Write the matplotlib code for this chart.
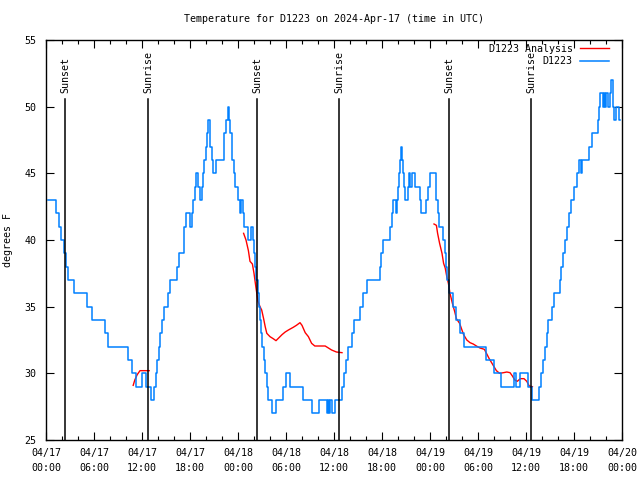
import numpy as np
import pandas as pd
import matplotlib
matplotlib.use("Agg")
import matplotlib.pyplot as plt
import matplotlib.dates as mdates

plt.rcParams["font.family"] = ["DejaVu Sans Mono"]
plt.rcParams["font.size"] = 7.2

start = pd.Timestamp("2024-04-17 00:00")

# D1223 observations: (hours since 04/17 00:00, deg F), held until the next reading
obs_hours = [0.25, 1.25, 1.3, 1.6, 1.9, 2.2, 2.45, 2.7, 3.5, 5.1, 5.8, 7.4, 7.7,
             10.2, 10.7, 11.2, 12.0, 12.5, 12.7, 13.1, 13.5, 13.7, 13.9, 14.1, 14.3,
             14.55, 14.8, 15.3, 15.5, 16.4, 16.6, 17.2, 17.3, 17.5, 18.0, 18.25,
             18.4, 18.6, 18.75, 19.0, 19.25, 19.5, 19.65, 19.8, 20.0, 20.15, 20.3,
             20.45, 20.5, 20.7, 20.9, 21.2, 22.2, 22.3, 22.55, 22.8, 22.9, 23.05,
             23.2, 23.3, 23.5, 23.6, 24.0, 24.25, 24.4, 24.6, 24.75, 25.2, 25.6,
             25.85, 26.0, 26.15, 26.3, 26.5, 26.6, 26.75, 26.9, 27.0, 27.2, 27.4,
             27.6, 27.8, 28.3, 28.7, 29.6, 30.0, 30.5, 32.1, 33.2, 34.1, 35.1,
             35.25, 35.4, 35.55, 35.7, 36.1, 36.95, 37.2, 37.5, 37.75, 38.2, 38.5,
             39.3, 39.6, 40.1, 41.7, 41.9, 42.1, 42.95, 43.2, 43.35, 43.7, 43.9,
             44.05, 44.15, 44.25, 44.35, 44.5, 44.6, 44.7, 44.85, 45.25, 45.4,
             45.5, 45.7, 46.1, 46.7, 46.85, 47.55, 47.75, 47.95, 48.7, 48.8, 48.95,
             49.1, 49.65, 49.85, 49.95, 50.1, 50.35, 50.85, 51.2, 51.8, 52.3,
             55.05, 55.95, 56.85, 58.5, 58.75, 59.3, 60.25, 60.75, 61.6, 61.9,
             62.1, 62.35, 62.6, 62.8, 63.2, 63.55, 64.2, 64.4, 64.6, 64.85, 65.1,
             65.35, 65.65, 65.95, 66.4, 66.65, 66.9, 67.0, 67.85, 68.3, 68.95,
             69.1, 69.3, 69.6, 69.75, 69.85, 70.0, 70.2, 70.45, 70.6, 70.9, 71.0,
             71.2, 71.6, 71.75]
obs_temps = [43, 42, 42, 41, 40, 39, 38, 37, 36, 35, 34, 33, 32,
             31, 30, 29, 30, 29, 29, 28, 29, 30, 31, 32, 33,
             34, 35, 36, 37, 38, 39, 40, 41, 42, 41, 42,
             43, 44, 45, 44, 43, 44, 45, 46, 47, 48, 49,
             48, 47, 46, 45, 46, 47, 48, 49, 50, 49, 48,
             47, 46, 45, 44, 43, 42, 43, 42, 41, 40, 41,
             40, 39, 38, 37, 36, 35, 34, 33, 32, 31, 30,
             29, 28, 27, 28, 29, 30, 29, 28, 27, 28, 27,
             28, 27, 28, 27, 28, 29, 30, 31, 32, 33, 34,
             35, 36, 37, 38, 39, 40, 41, 42, 43, 42, 43,
             44, 45, 46, 47, 46, 45, 44, 43, 44, 45,
             44, 45, 44, 43, 42, 43, 44, 45, 44, 43, 42,
             41, 40, 39, 38, 37, 36, 35, 34, 33, 32,
             31, 30, 29, 30, 29, 30, 29, 28, 29, 30,
             31, 32, 33, 34, 35, 36, 37, 38, 39, 40, 41,
             42, 43, 44, 45, 46, 45, 46, 47, 48, 49,
             50, 51, 50, 51, 50, 51, 50, 51, 52, 50, 49,
             50, 49, 49]

# D1223 Analysis, NaN separates the three pieces
ana_hours = [10.9, 11.1, 11.4, 11.75, 12.9, np.nan,
             24.7, 25.0, 25.3, 25.5, 25.8, 26.0, 26.25, 26.5, 26.75, 26.96, 27.2,
             27.4, 27.6, 28.0, 28.4, 28.75, 29.0, 29.5, 29.9, 30.3, 30.9, 31.3,
             31.75, 32.0, 32.4, 32.8, 33.2, 33.6, 34.9, 35.3, 35.7, 36.3, 37.0, np.nan,
             48.5, 48.8, 48.95, 49.2, 49.5, 49.7, 49.9, 50.1, 50.3, 50.5, 50.8,
             51.1, 51.3, 51.7, 52.2, 52.6, 53.0, 53.4, 53.8, 54.25, 54.8, 55.1,
             55.4, 55.7, 56.0, 56.3, 56.7, 57.2, 57.6, 58.0, 58.3, 58.6, 58.9,
             59.3, 59.75, 60.1, 60.4, 60.8]
ana_temps = [29.1, 29.5, 29.9, 30.2, 30.2, np.nan,
             40.5, 40.0, 39.2, 38.4, 38.2, 37.5, 36.4, 35.4, 35.0, 34.75, 34.1,
             33.5, 33.0, 32.75, 32.6, 32.45, 32.6, 32.9, 33.1, 33.25, 33.45, 33.6,
             33.8, 33.6, 33.05, 32.75, 32.25, 32.05, 32.05, 31.9, 31.75, 31.6, 31.55, np.nan,
             41.2, 41.1, 40.5, 39.75, 39.0, 38.25, 37.9, 37.25, 36.75, 36.0, 35.25,
             34.6, 34.1, 33.75, 32.9, 32.5, 32.3, 32.2, 32.05, 31.9, 31.8, 31.45,
             31.1, 30.8, 30.5, 30.2, 30.0, 30.05, 30.1, 30.05, 29.8, 29.5, 29.4,
             29.6, 29.6, 29.4, 29.05, 29.0]

sun_times = ["2024-04-17 02:25", "2024-04-17 12:45", "2024-04-18 02:25",
             "2024-04-18 12:40", "2024-04-19 02:25", "2024-04-19 12:40"]
sun_labels = ["Sunset", "Sunrise", "Sunset", "Sunrise", "Sunset", "Sunrise"]


def to_times(hours):
    # hours since start -> datetimes (NaN becomes NaT, which breaks the line)
    return start + pd.to_timedelta(np.asarray(hours, dtype=float), unit="h")


fig = plt.figure(figsize=(6.4, 4.8), dpi=100)
ax = fig.add_axes([46 / 640, 40 / 480, 576 / 640, 400 / 480])

ax.plot(to_times(ana_hours), ana_temps, color="#ff0000", lw=1.0, label="D1223 Analysis")
ax.plot(to_times(obs_hours), obs_temps, color="#0080ff", lw=1.1,
        drawstyle="steps-post", label="D1223")

# sunrise / sunset markers
for t, lab in zip(sun_times, sun_labels):
    t = pd.Timestamp(t)
    ax.plot([t, t], [25, 50.6], color="black", lw=1.1)
    ax.text(t, 51.0, lab, rotation=90, ha="center", va="bottom")

ax.set_xlim(start, start + pd.Timedelta(hours=72))
ax.set_ylim(25, 55)
ax.set_yticks(range(25, 56, 5))
ax.xaxis.set_major_locator(mdates.HourLocator(byhour=[0, 6, 12, 18]))
ax.xaxis.set_minor_locator(mdates.HourLocator(byhour=range(0, 24, 2)))
ax.xaxis.set_major_formatter(mdates.DateFormatter("%m/%d\n%H:%M"))
ax.tick_params(which="both", direction="in", top=True, right=True, width=0.8)
ax.tick_params(which="major", length=6)
ax.tick_params(which="minor", length=3)
ax.tick_params(axis="x", which="major", pad=6)
ax.tick_params(axis="y", which="major", pad=7)
for lab in ax.get_xticklabels():
    lab.set_linespacing(1.6)
for s in ax.spines.values():
    s.set_linewidth(1.0)

ax.set_title("Temperature for D1223 on 2024-Apr-17 (time in UTC)", fontsize=7.2, pad=13)
ax.set_ylabel("degrees F", labelpad=8)
ax.legend(loc="upper right", bbox_to_anchor=(0.984, 1.0), frameon=False,
          markerfirst=False, handlelength=2.9, borderaxespad=0,
          labelspacing=0.25, handletextpad=0.7)

fig.savefig("out.png", dpi=100)
